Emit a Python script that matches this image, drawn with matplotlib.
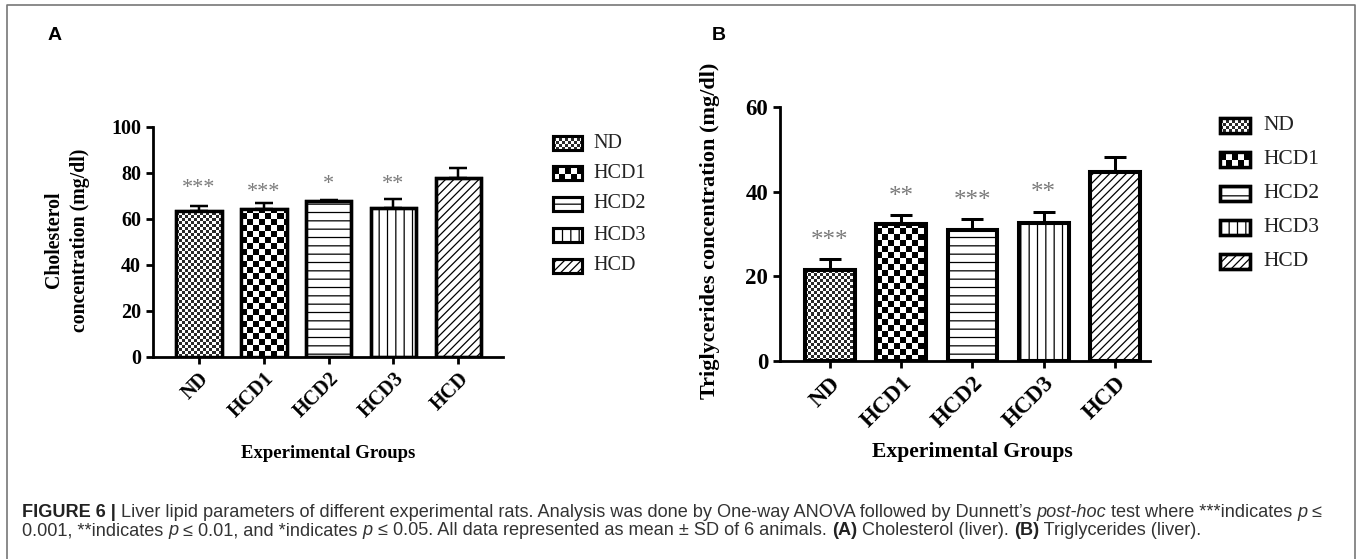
import numpy as np
import matplotlib
matplotlib.use('Agg')
import matplotlib.pyplot as plt
from matplotlib.colors import ListedColormap
from matplotlib.patches import Rectangle
from matplotlib.font_manager import FontProperties

# ---------------- data ----------------
groups = ['ND', 'HCD1', 'HCD2', 'HCD3', 'HCD']

chol_mean = [63.5, 64.3, 68.0, 64.6, 77.7]
chol_sd = [2.3, 2.5, 0.4, 3.9, 4.3]
chol_sig = ['***', '***', '*', '**', '']
chol_sig_y = [75.7, 74.3, 77.4, 77.4, 0]

tg_mean = [21.5, 32.4, 31.0, 32.5, 44.7]
tg_sd = [2.6, 2.1, 2.5, 2.8, 3.6]
tg_sig = ['***', '**', '***', '**', '']
tg_sig_y = [29.8, 40.2, 39.2, 41.0, 0]

patterns = ['fine', 'checker', '--', '||', '////']

W, H, DPI = 1358, 559, 100
SERIF = 'Liberation Serif'
SANS = 'Liberation Sans'
plt.rcParams['hatch.linewidth'] = 0.9

fig = plt.figure(figsize=(W / DPI, H / DPI), dpi=DPI)


def px_axes(l, r, top, bot):
    return fig.add_axes([l / W, (H - bot) / H, (r - l) / W, (bot - top) / H])


def add_checker(ax, rect, cell, dark, z):
    x, y, w, h = rect.get_x(), rect.get_y(), rect.get_width(), rect.get_height()
    p0 = ax.transData.transform((x, y))
    p1 = ax.transData.transform((x + w, y + h))
    px0, py0 = min(p0[0], p1[0]), min(p0[1], p1[1])
    pw, ph = abs(p1[0] - p0[0]), abs(p1[1] - p0[1])
    nx = int(np.ceil(pw / cell)) + 1
    ny = int(np.ceil(ph / cell)) + 1
    ii, jj = np.meshgrid(np.arange(nx), np.arange(ny))
    arr = ((ii + jj) % 2).astype(float)
    inv = ax.transData.inverted()
    d0 = inv.transform((px0, py0))
    d1 = inv.transform((px0 + nx * cell, py0 + ny * cell))
    im = ax.imshow(arr, extent=[d0[0], d1[0], d0[1], d1[1]], origin='lower',
                   cmap=ListedColormap(['white', dark]), vmin=0, vmax=1,
                   interpolation='nearest', aspect='auto', zorder=z)
    im.set_clip_path(rect)


def fill_pattern(ax, rect, pat, z):
    if pat == 'fine':
        add_checker(ax, rect, 3, '#2a2a2a', z)
    elif pat == 'checker':
        add_checker(ax, rect, 6, '#000000', z)
    else:
        rect.set_hatch(pat)


def panel(ax, means, sds, sig, sig_y, ymax, yticks, fs, star_fs,
          bar_lw, cap, xlim):
    ax.set_autoscale_on(False)
    ax.set_xlim(*xlim)
    ax.set_ylim(0, ymax)
    x = np.arange(len(groups))
    bars = ax.bar(x, means, width=0.70, facecolor='white', edgecolor='black',
                  linewidth=bar_lw, zorder=2)
    ax.errorbar(x, means, yerr=[np.zeros(len(sds)), sds], fmt='none',
                ecolor='black', elinewidth=bar_lw * 0.75, capsize=cap,
                capthick=bar_lw * 0.75, zorder=1.5)
    for b, p in zip(bars, patterns):
        fill_pattern(ax, b, p, 2.5)
    for b in bars:
        ax.add_patch(Rectangle((b.get_x(), b.get_y()), b.get_width(), b.get_height(),
                               facecolor='none', edgecolor='black',
                               linewidth=bar_lw, zorder=4))
    for xi, s, yv in zip(x, sig, sig_y):
        if s:
            ax.annotate(s, (xi, yv), xytext=(0, -star_fs * 0.47),
                        textcoords='offset points', ha='center', va='baseline',
                        fontsize=star_fs, color='#7a7a7a', family=SERIF)
    for sp in ['top', 'right']:
        ax.spines[sp].set_visible(False)
    for sp in ['left', 'bottom']:
        ax.spines[sp].set_linewidth(2.0)
    ax.set_yticks(yticks)
    ax.set_xticks(x)
    ax.tick_params(axis='both', direction='out', length=5, width=2.0)
    ax.set_yticklabels([str(v) for v in yticks], fontsize=fs, fontweight='bold',
                       family=SERIF)
    ax.set_xticklabels(groups, rotation=45, ha='right', rotation_mode='anchor',
                       fontsize=fs, fontweight='bold', family=SERIF)
    ax.patch.set_visible(False)
    return bars


# ---------------- panel A ----------------
axA = px_axes(153, 503, 127, 357)
panel(axA, chol_mean, chol_sd, chol_sig, chol_sig_y, 100, [0, 20, 40, 60, 80, 100],
      14.5, 16, 2.4, 6.8, (-0.71, 4.69))
axA.text((67 - 153) / 350, (357 - 240) / 230, 'Cholesterol\nconcentration (mg/dl)',
         transform=axA.transAxes, rotation=90, ha='center', va='center',
         fontsize=14.3, fontweight='bold', family=SERIF, linespacing=1.35)
axA.text(0.5, -0.42, 'Experimental Groups', transform=axA.transAxes, ha='center',
         va='center', fontsize=13.5, fontweight='bold', family=SERIF)

# ---------------- panel B ----------------
axB = px_axes(780, 1150, 107, 361)
panel(axB, tg_mean, tg_sd, tg_sig, tg_sig_y, 60, [0, 20, 40, 60],
      16.5, 18, 2.9, 8.2, (-0.70, 4.49))
axB.text((710 - 780) / 370, (361 - 231) / 254, 'Triglycerides concentration (mg/dl)',
         transform=axB.transAxes, rotation=90, ha='center', va='center',
         fontsize=16, fontweight='bold', family=SERIF)
axB.text(0.52, -0.36, 'Experimental Groups', transform=axB.transAxes, ha='center',
         va='center', fontsize=15.6, fontweight='bold', family=SERIF)

# ---------------- overlay (pixel coords) ----------------
ov = fig.add_axes([0, 0, 1, 1])
ov.set_autoscale_on(False)
ov.set_xlim(0, W)
ov.set_ylim(H, 0)
ov.axis('off')


def legend(x0, w, h, ys, fs, lw, tx):
    for g, p, yc in zip(groups, patterns, ys):
        r = Rectangle((x0, yc - h / 2), w, h, facecolor='white', edgecolor='black',
                      linewidth=lw, zorder=2)
        ov.add_patch(r)
        fill_pattern(ov, r, p, 2.5)
        ov.add_patch(Rectangle((x0, yc - h / 2), w, h, facecolor='none',
                               edgecolor='black', linewidth=lw, zorder=4))
        ov.text(tx, yc, g, ha='left', va='center', fontsize=fs, family=SERIF,
                color='#222222')

legend(553, 29, 14, [143, 173, 204, 235, 266], 14.5, 2.2, 593)
legend(1220, 30, 15, [125, 159, 193, 227, 261], 15.5, 2.4, 1263)

ov.text(55, 36, 'A', ha='center', va='center', fontsize=14, fontweight='bold',
        family=SANS)
ov.text(719, 36, 'B', ha='center', va='center', fontsize=14, fontweight='bold',
        family=SANS)

ov.plot([7, 7, 1355, 1355], [H + 2, 5, 5, H + 2], color='#777777', lw=1.2,
        clip_on=False)

# caption
renderer = fig.canvas.get_renderer()
CAP_COL = '#333333'


def adv(s, fp):
    w1, _, _ = renderer.get_text_width_height_descent('|' + s + '|', fp, ismath=False)
    w0, _, _ = renderer.get_text_width_height_descent('||', fp, ismath=False)
    return w1 - w0


def fprop(style, size):
    if style == 'b':
        return FontProperties(family=SANS, weight='bold', size=size)
    if style == 'i':
        return FontProperties(family=SANS, style='italic', size=size)
    return FontProperties(family=SANS, size=size)


line1 = [('FIGURE 6 |', 'b'),
         (' Liver lipid parameters of different experimental rats. Analysis was done by '
          'One-way ANOVA followed by Dunnett\u2019s ', 'n'),
         ('post-hoc', 'i'), (' test where ***indicates ', 'n'), ('p', 'i'), (' \u2264', 'n')]
line2 = [('0.001, **indicates ', 'n'), ('p', 'i'), (' \u2264 0.01, and *indicates ', 'n'),
         ('p', 'i'), (' \u2264 0.05. All data represented as mean \u00b1 SD of 6 animals. ', 'n'),
         ('(A)', 'b'), (' Cholesterol (liver). ', 'n'), ('(B)', 'b'),
         (' Triglycerides (liver).', 'n')]

base = 11.0
tot = sum(adv(s, fprop(st, base)) for s, st in line1)
cap_fs = base * 1301.0 / tot


def draw_line(segs, x, yb):
    for s, st in segs:
        fp = fprop(st, cap_fs)
        ov.text(x, yb, s, fontproperties=fp, ha='left', va='baseline',
                color='#222222' if st == 'b' else CAP_COL)
        x += adv(s, fp)

draw_line(line1, 22, 517)
draw_line(line2, 22, 535)

fig.savefig('out.png', dpi=DPI)
